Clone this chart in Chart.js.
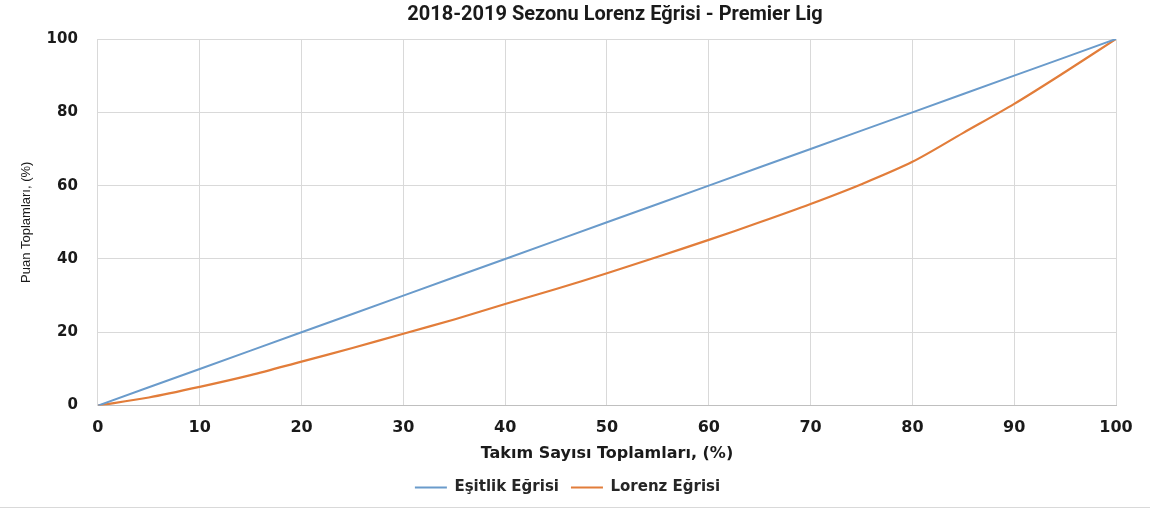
<!DOCTYPE html>
<html>
<head>
<meta charset="utf-8">
<title>Lorenz Eğrisi - Premier Lig</title>
<script src="https://cdn.jsdelivr.net/npm/chart.js@4"></script>
<style>
  html, body { margin: 0; padding: 0; background: #fff; }
  #wrap { width: 1150px; height: 507px; border-bottom: 1px solid #d9d9d9; }
</style>
</head>
<body>
<div id="wrap"><canvas id="chart" width="1150" height="507"></canvas></div>
<script>
// cumulative share of teams (%)
const teamShare = [0, 5, 10, 15, 20, 25, 30, 35, 40, 45, 50, 55, 60, 65, 70, 75, 80, 85, 90, 95, 100];
// equality line
const equality = [0, 5, 10, 15, 20, 25, 30, 35, 40, 45, 50, 55, 60, 65, 70, 75, 80, 85, 90, 95, 100];
// cumulative share of points (%)
const lorenz = [0, 2.2, 5.1, 8.3, 12.0, 15.7, 19.6, 23.5, 27.7, 31.8, 36.1, 40.6, 45.2, 50.0, 55.0, 60.4, 66.5, 74.4, 82.3, 91.0, 100];
const xTicks = [0, 10, 20, 30, 40, 50, 60, 70, 80, 90, 100];
const yTicks = [0, 20, 40, 60, 80, 100];

const chartTitle = '2018-2019 Sezonu Lorenz Eğrisi - Premier Lig';

const toPoints = (ys) => teamShare.map((x, i) => ({ x: x, y: ys[i] }));

// the title sits a bit right of centre in the original, so draw it by hand
const titlePlugin = {
    id: 'offsetTitle',
    afterDraw(chart) {
        const c = chart.ctx;
        c.save();
        c.font = 'bold 20px Roboto';
        c.fillStyle = '#1a1a1a';
        c.textAlign = 'center';
        c.textBaseline = 'middle';
        c.fillText(chartTitle, 615, 15);
        c.restore();
    }
};

const ctx = document.getElementById('chart').getContext('2d');

new Chart(ctx, {
    type: 'line',
    data: {
        datasets: [
            {
                label: 'Eşitlik Eğrisi',
                data: toPoints(equality),
                borderColor: '#6a9bcb',
                borderWidth: 2,
                pointRadius: 0,
                tension: 0
            },
            {
                label: 'Lorenz Eğrisi',
                data: toPoints(lorenz),
                borderColor: '#e27d3a',
                borderWidth: 2.2,
                pointRadius: 0,
                tension: 0.3
            }
        ]
    },
    options: {
        responsive: false,
        animation: false,
        layout: {
            padding: { left: 19, right: 34, top: 39, bottom: 2 }
        },
        plugins: {
            title: { display: false },
            legend: {
                position: 'bottom',
                labels: {
                    usePointStyle: true,
                    pointStyle: 'line',
                    pointStyleWidth: 32,
                    color: '#262626',
                    font: { family: 'DejaVu Sans', size: 15, weight: 'bold' },
                    padding: 12
                }
            },
            tooltip: { enabled: false }
        },
        scales: {
            x: {
                type: 'linear',
                min: 0,
                max: 100,
                afterBuildTicks: (axis) => { axis.ticks = xTicks.map(v => ({ value: v })); },
                grid: { color: '#d9d9d9', drawTicks: false },
                border: { color: '#bfbfbf' },
                ticks: {
                    color: '#1a1a1a',
                    padding: 13,
                    font: { family: 'DejaVu Sans', size: 16, weight: 'bold' }
                },
                title: {
                    display: true,
                    text: 'Takım Sayısı Toplamları, (%)',
                    color: '#1a1a1a',
                    font: { family: 'DejaVu Sans', size: 16, weight: 'bold' },
                    padding: { top: -7, bottom: 5 }
                }
            },
            y: {
                min: 0,
                max: 100,
                afterBuildTicks: (axis) => { axis.ticks = yTicks.map(v => ({ value: v })); },
                grid: { color: '#d9d9d9', drawTicks: false },
                border: { color: '#d9d9d9' },
                ticks: {
                    color: '#1a1a1a',
                    padding: 20,
                    font: { family: 'DejaVu Sans', size: 15, weight: 'bold' }
                },
                title: {
                    display: true,
                    text: 'Puan Toplamları, (%)',
                    color: '#1a1a1a',
                    font: { family: 'Liberation Sans', size: 13 },
                    padding: { top: 0, bottom: -8 }
                }
            }
        }
    },
    plugins: [titlePlugin]
});
</script>
</body>
</html>
